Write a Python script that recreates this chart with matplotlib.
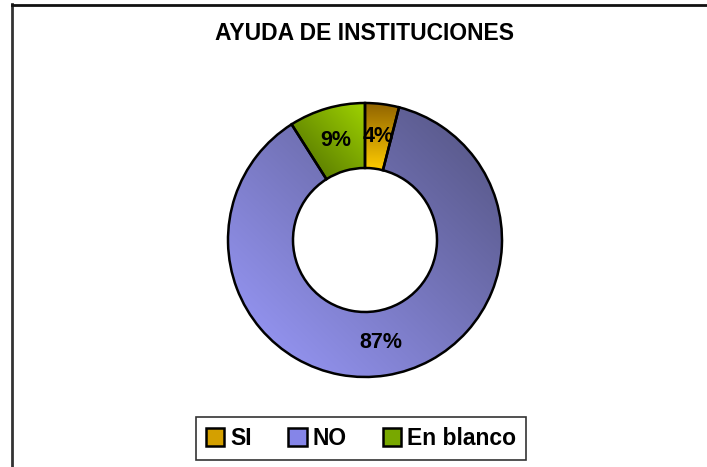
import numpy as np
import matplotlib
matplotlib.use('Agg')
import matplotlib.pyplot as plt
from matplotlib.lines import Line2D
from matplotlib.patches import Patch

plt.rcParams['font.family'] = ['Liberation Sans', 'DejaVu Sans']

# Datos
categorias = ['SI', 'NO', 'En blanco']
porcentajes = [4, 87, 9]
titulo = 'AYUDA DE INSTITUCIONES'

# Degradados (color inicial/final y direccion del degradado)
grad_ini = ['#8f6200', '#9c9cff', '#4c6a00']
grad_fin = ['#ffcc00', '#52527e', '#a0d400']
grad_dir = [(0, -1), (1, 1), (1, 1)]
color_leyenda = ['#d4a000', '#8585e8', '#78a800']

W, H = 707, 467
fig = plt.figure(figsize=(W / 100, H / 100), dpi=100)
ax = fig.add_axes([0, 0, 1, 1])

cx, cy, r = 365, H - 240, 137
ancho = 65

wedges, textos, autotextos = ax.pie(
    porcentajes, center=(cx, cy), radius=r, startangle=90, counterclock=False,
    autopct='%1.0f%%', pctdistance=0.76, frame=True,
    wedgeprops=dict(width=ancho, facecolor='none', edgecolor='black', linewidth=1.8, zorder=3),
    textprops=dict(fontsize=15.5, fontweight='bold', color='black'))
for t in autotextos:
    t.set_zorder(5)

# relleno con degradado recortado a cada sector
n = 300
for w, c0, c1, d in zip(wedges, grad_ini, grad_fin, grad_dir):
    bb = w.get_path().get_extents()
    X, Y = np.meshgrid(np.linspace(-1, 1, n), np.linspace(-1, 1, n))
    d = np.array(d, dtype=float)
    d /= np.abs(d).sum()
    t = np.clip((X * d[0] + Y * d[1] + 1) / 2, 0, 1)[..., None]
    a = np.array(matplotlib.colors.to_rgb(c0))
    b = np.array(matplotlib.colors.to_rgb(c1))
    img = a + (b - a) * t
    im = ax.imshow(img, extent=[bb.x0, bb.x1, bb.y0, bb.y1], origin='lower',
                   zorder=1, interpolation='bilinear')
    im.set_clip_path(w)

ax.set_xlim(0, W)
ax.set_ylim(0, H)
ax.set_aspect('auto')
ax.axis('off')

# marco (solo bordes izquierdo y superior visibles)
fig.add_artist(Line2D([11.5 / W, 11.5 / W], [0, 1 - 4 / H], transform=fig.transFigure,
                      color='#333333', linewidth=2))
fig.add_artist(Line2D([11.5 / W, 1], [1 - 4.5 / H, 1 - 4.5 / H], transform=fig.transFigure,
                      color='#111111', linewidth=2))

fig.text(365 / W, 1 - 33 / H, titulo, ha='center', va='center', fontsize=16.5, fontweight='bold')

handles = [Patch(facecolor=c, edgecolor='black', linewidth=1.8) for c in color_leyenda]
leg = fig.legend(handles, categorias, loc='center', bbox_to_anchor=(361 / W, 1 - 438.5 / H),
                 ncol=3, frameon=True, fancybox=False, edgecolor='black',
                 prop=dict(size=16.5, weight='bold'), handlelength=0.8, handleheight=0.8,
                 handletextpad=0.25, columnspacing=1.6, borderpad=0.45, borderaxespad=0)
leg.get_frame().set_linewidth(1.2)

fig.savefig('out.png', dpi=100)
